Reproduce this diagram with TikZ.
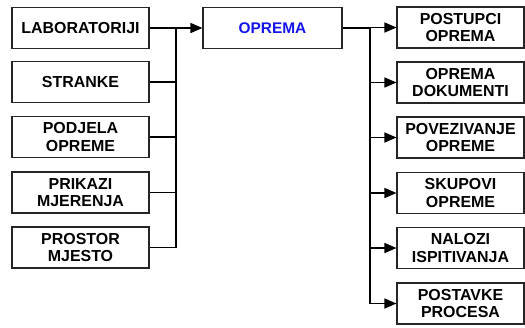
\documentclass[tikz,border=0pt]{standalone}
\usepackage{fontspec}
\setmainfont{Liberation Sans}
\usetikzlibrary{arrows.meta}
\begin{document}
\begin{tikzpicture}[x=1bp,y=-1bp,
  box/.style={draw=black!85, line width=1.1bp, fill=white, align=center,
    inner sep=0pt, font=\fontsize{16}{17.5}\selectfont\bfseries},
  lbox/.style={box, minimum width=137bp, minimum height=41bp},
  rbox/.style={box, minimum width=127bp, minimum height=41bp},
  conn/.style={line width=1.5bp, black},
  arr/.style={conn, -{Triangle[length=12bp,width=10bp]}}]
\useasboundingbox (0,0) rectangle (525,327);
% left boxes
\node[lbox] (L1) at (80.5,28) {LABORATORIJI};
\node[lbox] (L2) at (80.5,82) {STRANKE};
\node[lbox] (L3) at (80.5,137) {PODJELA\\OPREME};
\node[lbox] (L4) at (80.5,192.5) {PRIKAZI\\MJERENJA};
\node[lbox] (L5) at (80.5,247.5) {PROSTOR\\MJESTO};
% centre
\node[box, minimum width=139bp, minimum height=41bp, font=\fontsize{15.5}{17.5}\selectfont\bfseries, text={rgb,255:red,20;green,20;blue,235}] (O) at (272.5,28) {OPREMA};
% right boxes
\node[rbox] (R1) at (460.5,27.5) {POSTUPCI\\OPREMA};
\node[rbox] (R2) at (460.5,82.5) {OPREMA\\DOKUMENTI};
\node[rbox] (R3) at (460.5,137.5) {POVEZIVANJE\\OPREME};
\node[rbox] (R4) at (460.5,193) {SKUPOVI\\OPREME};
\node[rbox] (R5) at (460.5,248) {NALOZI\\ISPITIVANJA};
\node[rbox] (R6) at (460.5,303.5) {POSTAVKE\\PROCESA};
% buses
\coordinate (lbus) at (176,0);
\coordinate (rbus) at (370,0);
\foreach \n in {L1,L2,L3,L4,L5}
  \draw[conn] (\n.east) -- (\n.east -| lbus);
\draw[conn] (L1.east -| lbus) -- (L5.east -| lbus);
\draw[arr] (O.west -| lbus) -- (O.west);
\draw[conn] (O.east) -- (O.east -| rbus) -- (R6.west -| rbus);
\foreach \n in {R1,R2,R3,R4,R5,R6}
  \draw[arr] (\n.west -| rbus) -- (\n.west);
\end{tikzpicture}
\end{document}
